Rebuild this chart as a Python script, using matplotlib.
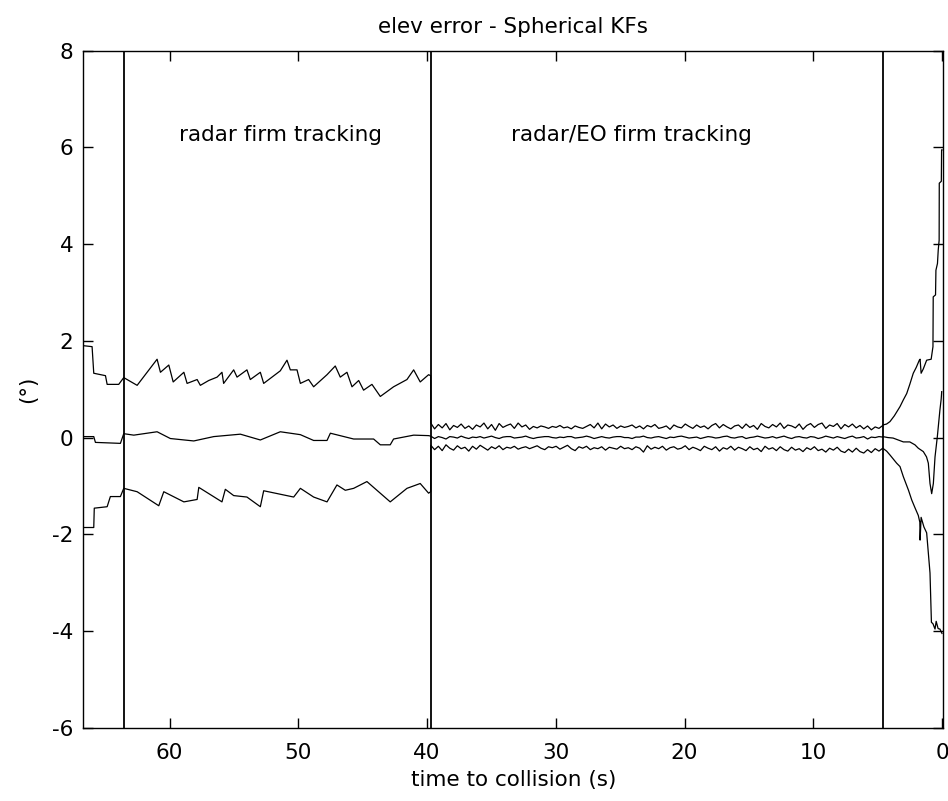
import numpy as np
import matplotlib
matplotlib.use("Agg")
import matplotlib.pyplot as plt

plt.rcParams['font.family'] = ['DejaVu Sans']
plt.rcParams['axes.unicode_minus'] = False

# ---------------- data ----------------
# Phase boundaries (time to collision, s)
phase_lines = [63.56, 39.71, 4.60]

# Radar-only phase
upper_radar_t = [66.7, 66.02, 65.89, 64.98, 64.85, 63.95, 63.56, 62.52, 60.97, 60.71, 60.06, 59.72,
                 58.89, 58.64, 57.86, 57.61, 56.96, 56.31, 55.93, 55.80, 55.02, 54.76, 53.99, 53.73,
                 52.95, 52.69, 51.40, 50.88, 50.62, 50.10, 49.84, 49.20, 48.81, 47.77, 47.13, 46.74,
                 46.22, 45.83, 45.31, 44.93, 44.28, 43.89, 43.63, 42.60, 41.56, 41.04, 40.53, 39.88, 39.72]
upper_radar_v = [1.90, 1.88, 1.33, 1.28, 1.10, 1.10, 1.24, 1.08, 1.62, 1.35, 1.50, 1.15,
                 1.35, 1.12, 1.20, 1.08, 1.18, 1.25, 1.35, 1.12, 1.40, 1.25, 1.40, 1.20,
                 1.35, 1.12, 1.38, 1.60, 1.40, 1.40, 1.12, 1.20, 1.05, 1.30, 1.48, 1.25,
                 1.35, 1.05, 1.18, 0.98, 1.10, 0.95, 0.85, 1.05, 1.20, 1.40, 1.15, 1.30, 1.28]

mean_radar_t = [66.7, 65.89, 65.76, 63.82, 63.56, 62.78, 60.97, 59.94, 58.12, 56.57, 54.50, 52.95,
                51.40, 49.84, 48.81, 47.77, 47.51, 45.70, 44.15, 43.63, 42.86, 42.60, 41.04, 39.88, 39.72]
mean_radar_v = [0.02, 0.02, -0.10, -0.12, 0.08, 0.05, 0.12, -0.02, -0.07, 0.02, 0.07, -0.05,
                0.12, 0.06, -0.06, -0.06, 0.09, -0.03, -0.03, -0.15, -0.15, -0.03, 0.05, 0.04, 0.03]

lower_radar_t = [66.7, 65.89, 65.85, 64.85, 64.60, 63.82, 63.56, 62.52, 60.84, 60.45, 58.89, 57.86,
                 57.73, 55.93, 55.67, 55.02, 53.99, 52.95, 52.69, 50.36, 49.84, 48.81, 47.77, 47.00,
                 46.35, 45.70, 44.67, 42.86, 41.56, 40.53, 39.88, 39.72]
lower_radar_v = [-1.86, -1.86, -1.46, -1.43, -1.22, -1.22, -1.05, -1.12, -1.41, -1.12, -1.33, -1.28,
                 -1.03, -1.33, -1.07, -1.20, -1.23, -1.43, -1.10, -1.23, -1.05, -1.23, -1.33, -0.98,
                 -1.09, -1.05, -0.91, -1.33, -1.05, -0.95, -1.15, -1.12]

# Radar/EO phase (evenly sampled from 39.71 s to 4.60 s)
upper_fused_v = [0.30, 0.18, 0.27, 0.20, 0.29, 0.16, 0.25, 0.21, 0.28, 0.19,
                 0.24, 0.17, 0.26, 0.22, 0.30, 0.18, 0.27, 0.15, 0.29, 0.21,
                 0.25, 0.28, 0.19, 0.30, 0.22, 0.26, 0.17, 0.23, 0.20, 0.24,
                 0.22, 0.19, 0.23, 0.21, 0.25, 0.20, 0.22, 0.18, 0.24, 0.21,
                 0.19, 0.23, 0.27, 0.20, 0.30, 0.18, 0.28, 0.22, 0.26, 0.19,
                 0.24, 0.21, 0.23, 0.26, 0.20, 0.24, 0.18, 0.25, 0.22, 0.27,
                 0.19, 0.21, 0.24, 0.17, 0.26, 0.22, 0.20, 0.28, 0.23, 0.19,
                 0.26, 0.21, 0.24, 0.18, 0.25, 0.29, 0.20, 0.27, 0.22, 0.18,
                 0.24, 0.26, 0.19, 0.28, 0.21, 0.25, 0.17, 0.29, 0.23, 0.20,
                 0.27, 0.22, 0.30, 0.19, 0.26, 0.24, 0.20, 0.28, 0.17, 0.25,
                 0.29, 0.21, 0.27, 0.30, 0.19, 0.26, 0.23, 0.29, 0.18, 0.27,
                 0.22, 0.28, 0.20, 0.25, 0.18, 0.24, 0.16, 0.22, 0.19, 0.25]
mean_fused_v = [0.03, -0.02, 0.02, 0.00, -0.03, 0.02, 0.01, -0.01, 0.03, 0.00,
                -0.02, 0.01, 0.00, 0.02, -0.01, 0.01, 0.03, 0.00, -0.02, 0.01,
                0.02, 0.02, -0.01, 0.00, 0.01, 0.03, 0.00, -0.02, 0.00, 0.01,
                0.02, 0.02, 0.00, -0.01, 0.01, 0.00, 0.02, 0.02, -0.01, 0.00,
                0.01, 0.03, 0.01, -0.02, 0.00, 0.02, 0.00, -0.01, 0.01, 0.02,
                0.02, 0.00, 0.00, -0.02, 0.01, 0.01, 0.03, 0.00, -0.01, 0.01,
                0.02, 0.00, -0.02, 0.01, 0.00, 0.02, 0.03, 0.01, -0.01, 0.00,
                0.01, -0.02, 0.00, 0.02, 0.01, -0.01, 0.00, 0.02, 0.03, 0.00,
                -0.01, 0.01, 0.02, -0.02, 0.00, 0.01, 0.03, 0.01, -0.01, 0.00,
                0.02, -0.01, 0.01, 0.03, 0.00, -0.02, 0.01, 0.02, 0.00, -0.01,
                0.02, 0.01, -0.02, 0.00, 0.03, 0.01, -0.01, 0.02, 0.00, -0.02,
                0.01, 0.03, -0.01, 0.00, 0.02, -0.03, 0.01, 0.00, 0.02, 0.01]
lower_fused_v = [-0.16, -0.25, -0.18, -0.27, -0.15, -0.22, -0.26, -0.17, -0.23, -0.20,
                 -0.28, -0.18, -0.24, -0.16, -0.21, -0.26, -0.19, -0.23, -0.17, -0.25,
                 -0.20, -0.22, -0.18, -0.24, -0.21, -0.19, -0.23, -0.20, -0.17, -0.22,
                 -0.25, -0.19, -0.21, -0.18, -0.24, -0.20, -0.16, -0.23, -0.27, -0.19,
                 -0.22, -0.18, -0.25, -0.21, -0.23, -0.19, -0.26, -0.20, -0.22, -0.24,
                 -0.18, -0.23, -0.21, -0.25, -0.19, -0.22, -0.30, -0.17, -0.24, -0.20,
                 -0.23, -0.18, -0.26, -0.21, -0.19, -0.24, -0.22, -0.17, -0.25, -0.20,
                 -0.23, -0.27, -0.18, -0.22, -0.25, -0.19, -0.28, -0.21, -0.24, -0.18,
                 -0.26, -0.20, -0.23, -0.27, -0.19, -0.25, -0.22, -0.29, -0.18, -0.24,
                 -0.21, -0.27, -0.19, -0.25, -0.28, -0.20, -0.26, -0.23, -0.29, -0.21,
                 -0.25, -0.19, -0.27, -0.24, -0.30, -0.22, -0.26, -0.20, -0.28, -0.31,
                 -0.24, -0.30, -0.22, -0.29, -0.32, -0.25, -0.31, -0.23, -0.28, -0.22]

# Final phase (4.6 s to collision)
upper_final_t = [4.60, 4.30, 4.04, 3.70, 3.26, 3.00, 2.74, 2.50, 2.23, 2.00, 1.76, 1.70, 1.62, 1.45,
                 1.19, 0.84, 0.70, 0.68, 0.50, 0.47, 0.35, 0.29, 0.22, 0.21, 0.05, 0.03, 0.00]
upper_final_v = [0.26, 0.28, 0.33, 0.45, 0.64, 0.78, 0.91, 1.10, 1.33, 1.45, 1.60, 1.62, 1.33, 1.42,
                 1.60, 1.62, 1.88, 2.91, 2.95, 3.46, 3.60, 3.88, 4.08, 5.26, 5.30, 5.95, 5.95]

mean_final_t = [4.60, 4.20, 3.80, 3.40, 3.00, 2.50, 2.10, 1.84, 1.45, 1.20, 1.06, 0.93, 0.80, 0.67,
                0.54, 0.36, 0.16, 0.06, 0.02]
mean_final_v = [0.02, 0.00, -0.01, -0.05, -0.09, -0.09, -0.15, -0.22, -0.29, -0.40, -0.53, -0.95,
                -1.16, -0.95, -0.40, 0.02, 0.57, 0.80, 0.95]

lower_final_t = [4.60, 4.30, 4.04, 3.52, 3.26, 3.00, 2.60, 2.35, 2.10, 1.84, 1.72, 1.70, 1.62, 1.40,
                 1.19, 0.93, 0.82, 0.70, 0.54, 0.45, 0.30, 0.16, 0.05, 0.00]
lower_final_v = [-0.22, -0.28, -0.36, -0.53, -0.60, -0.81, -1.09, -1.29, -1.45, -1.61, -1.75, -2.12,
                 -1.65, -1.85, -1.97, -2.80, -3.82, -3.85, -3.96, -3.80, -3.95, -3.96, -4.02, -4.05]

x_ticks = [60, 50, 40, 30, 20, 10, 0]
y_ticks = [-6, -4, -2, 0, 2, 4, 6, 8]
phase_labels = ["radar firm tracking", "radar/EO firm tracking"]
phase_label_pos = [(51.4, 6.25), (24.1, 6.25)]

# ---------------- plot ----------------
FS = 15.5
fig = plt.figure(figsize=(9.48, 8.01), dpi=100)
ax = fig.add_axes([0.0879, 0.0915, 0.9071, 0.8452])

fused_t = np.linspace(39.71, 4.60, len(upper_fused_v))

def series(t_r, v_r, v_f, t_e, v_e):
    t = np.concatenate([t_r, fused_t, t_e])
    v = np.concatenate([v_r, v_f, v_e])
    return t, v

for (t_r, v_r, v_f, t_e, v_e) in [
        (upper_radar_t, upper_radar_v, upper_fused_v, upper_final_t, upper_final_v),
        (mean_radar_t, mean_radar_v, mean_fused_v, mean_final_t, mean_final_v),
        (lower_radar_t, lower_radar_v, lower_fused_v, lower_final_t, lower_final_v)]:
    t, v = series(t_r, v_r, v_f, t_e, v_e)
    ax.plot(t, v, color='black', lw=0.9)

for xl in phase_lines:
    ax.axvline(xl, color='black', lw=1.3)

for lab, (tx, ty) in zip(phase_labels, phase_label_pos):
    ax.text(tx, ty, lab, ha='center', va='center', fontsize=FS)

ax.set_xlim(66.7, -0.1)
ax.set_ylim(-6, 8)
ax.set_xticks(x_ticks)
ax.set_xticklabels([str(v) for v in x_ticks])
ax.set_yticks(y_ticks)
ax.set_yticklabels([str(v) for v in y_ticks])
ax.tick_params(direction='in', length=7, width=1.0, top=True, right=True, labelsize=FS)
ax.tick_params(axis='x', pad=11)
ax.tick_params(axis='y', pad=7)
for s in ax.spines.values():
    s.set_linewidth(1.0)

ax.set_xlabel("time to collision (s)", fontsize=FS, labelpad=5)
ax.set_ylabel("(°)", fontsize=FS, labelpad=10)
ax.set_title("elev error - Spherical KFs", fontsize=FS, pad=13)

fig.savefig("out.png", dpi=100)
